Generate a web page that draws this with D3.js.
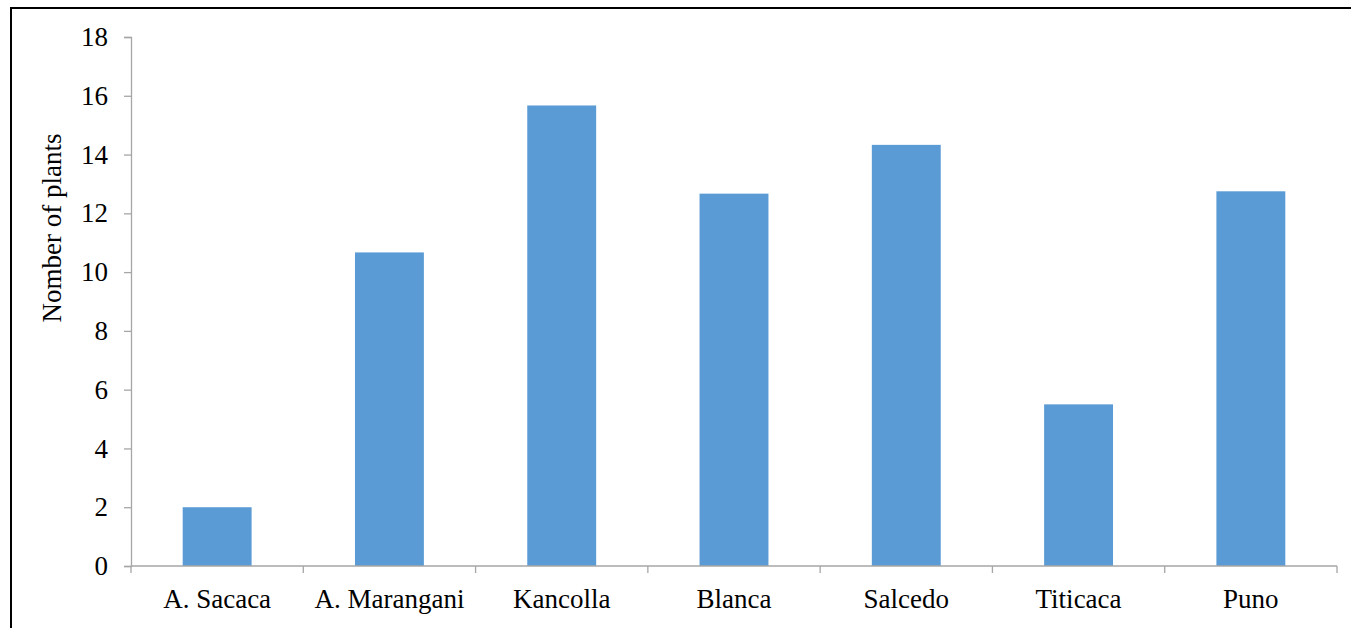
<!DOCTYPE html>
<html>
<head>
<meta charset="utf-8">
<script src="https://cdn.jsdelivr.net/npm/d3@7"></script>
<style>
  html, body { margin: 0; padding: 0; background: #fff; }
  svg { display: block; }
  text { font-family: "Liberation Serif", "Times New Roman", serif; fill: #000; }
</style>
</head>
<body>
<svg id="chart" width="1351" height="628"></svg>
<script>
// Varieties and mean number of plants
const categories = ["A. Sacaca", "A. Marangani", "Kancolla", "Blanca", "Salcedo", "Titicaca", "Puno"];
const plants = [2, 10.67, 15.67, 12.67, 14.33, 5.5, 12.75];
const yTicks = [0, 2, 4, 6, 8, 10, 12, 14, 16, 18];
const yTitle = "Nomber of plants";

const svg = d3.select("#chart");
const W = 1351, H = 628;
const margin = { left: 131, right: W - 1337, top: 37, bottom: H - 566 };
const fontSize = 27;

// Outer frame
svg.append("rect")
  .attr("x", 11).attr("y", 8)
  .attr("width", W + 10).attr("height", H + 10)
  .attr("fill", "none").attr("stroke", "#000").attr("stroke-width", 2);

const x = d3.scaleBand()
  .domain(categories)
  .range([margin.left, W - margin.right])
  .paddingInner(0.6)
  .paddingOuter(0.3);

const y = d3.scaleLinear()
  .domain([0, 18])
  .range([H - margin.bottom, margin.top]);

const axisColor = "#a6a6a6";

// Bars
svg.append("g").selectAll("rect")
  .data(categories)
  .join("rect")
  .attr("x", d => x(d))
  .attr("width", x.bandwidth())
  .attr("y", (d, i) => y(plants[i]))
  .attr("height", (d, i) => y(0) - y(plants[i]))
  .attr("fill", "#5b9bd5");

// Y axis
const yAxis = svg.append("g")
  .attr("transform", `translate(${margin.left},0)`)
  .call(d3.axisLeft(y).tickValues(yTicks).tickSize(7).tickPadding(16).tickFormat(d3.format("d")));
yAxis.select(".domain").attr("stroke", axisColor).attr("stroke-width", 1.3);
yAxis.selectAll(".tick line").attr("stroke", axisColor).attr("stroke-width", 1.3);
yAxis.selectAll(".tick text").attr("font-size", fontSize).attr("font-family", "Liberation Serif");

// X axis with boundary ticks between categories
const xAxisG = svg.append("g").attr("transform", `translate(0,${y(0)})`);
xAxisG.append("line")
  .attr("x1", margin.left).attr("x2", W - margin.right)
  .attr("stroke", axisColor).attr("stroke-width", 1.3);
const step = x.step();
const bounds = d3.range(categories.length + 1).map(i => margin.left + i * step);
xAxisG.selectAll("line.tk")
  .data(bounds)
  .join("line")
  .attr("class", "tk")
  .attr("x1", d => d).attr("x2", d => d)
  .attr("y1", 0).attr("y2", 7)
  .attr("stroke", axisColor).attr("stroke-width", 1.3);
xAxisG.selectAll("text")
  .data(categories)
  .join("text")
  .attr("x", d => x(d) + x.bandwidth() / 2)
  .attr("y", 42)
  .attr("text-anchor", "middle")
  .attr("font-size", fontSize)
  .text(d => d);

// Y axis title
svg.append("text")
  .attr("transform", `translate(61,228) rotate(-90)`)
  .attr("text-anchor", "middle")
  .attr("font-size", fontSize)
  .text(yTitle);
</script>
</body>
</html>
